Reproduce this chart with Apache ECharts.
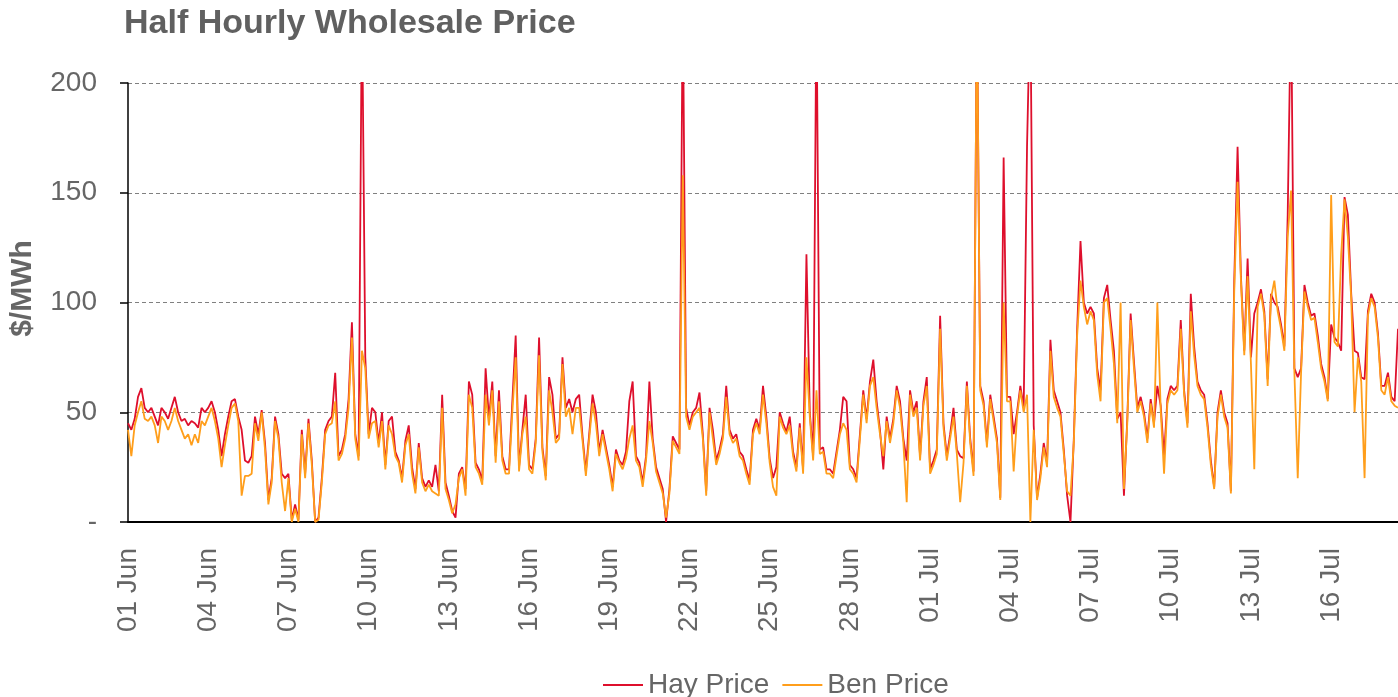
<!DOCTYPE html>
<html>

<head>
    <meta charset="utf-8" />
    <title>Half Hourly Wholesale Price</title>
    <script src="https://cdn.jsdelivr.net/npm/echarts@6/dist/echarts.min.js"></script>
</head>

<body style="margin: 0">
    <div id="main" style="width: 1398px; height: 697px"></div>
    <script type="text/javascript">
        // one reading every 3 hours from 01 Jun 00:00
        var stepHours = 3;
        var tickLabels = ["01 Jun", "04 Jun", "07 Jun", "10 Jun", "13 Jun", "16 Jun", "19 Jun", "22 Jun",
            "25 Jun", "28 Jun", "01 Jul", "04 Jul", "07 Jul", "10 Jul", "13 Jul", "16 Jul"];

        var hayPrice = [
            45, 42, 47, 57, 61, 52, 50, 52, // 01 Jun
            48, 44, 52, 50, 47, 52, 57, 50,
            46, 47, 44, 46, 45, 43, 52, 50,
            52, 55, 50, 42, 30, 40, 48, 55, // 04 Jun
            56, 48, 42, 28, 27, 30, 48, 40,
            51, 36, 10, 20, 48, 40, 22, 20,
            22, 1, 8, 1, 42, 22, 47, 28, // 07 Jun
            0, 2, 20, 42, 46, 48, 68, 30,
            33, 40, 56, 91, 40, 30, 240, 75,
            40, 52, 50, 36, 50, 26, 46, 48, // 10 Jun
            32, 28, 20, 37, 44, 25, 15, 36,
            20, 16, 19, 16, 26, 14, 58, 18,
            12, 5, 2, 22, 25, 15, 64, 58, // 13 Jun
            27, 24, 19, 70, 47, 64, 30, 60,
            30, 24, 24, 55, 85, 25, 42, 58,
            26, 24, 38, 84, 34, 21, 66, 58, // 16 Jun
            38, 40, 75, 52, 56, 50, 56, 58,
            39, 23, 40, 58, 50, 32, 42, 34,
            26, 16, 33, 28, 26, 32, 55, 64, // 19 Jun
            30, 27, 18, 30, 64, 38, 25, 20,
            15, 0, 15, 39, 36, 33, 240, 52,
            44, 50, 52, 59, 40, 14, 52, 42, // 22 Jun
            28, 33, 40, 62, 42, 38, 40, 32,
            30, 24, 19, 42, 47, 42, 62, 48,
            29, 20, 25, 50, 45, 41, 48, 32, // 25 Jun
            25, 45, 24, 122, 50, 30, 240, 33,
            34, 24, 24, 22, 32, 42, 57, 55,
            26, 24, 20, 40, 60, 47, 64, 74, // 28 Jun
            55, 42, 24, 48, 38, 47, 62, 55,
            38, 28, 60, 50, 55, 30, 55, 66,
            24, 28, 33, 94, 45, 30, 40, 52, // 01 Jul
            33, 30, 29, 64, 38, 23, 240, 62,
            55, 36, 58, 48, 38, 11, 166, 57,
            57, 40, 50, 62, 52, 171, 240, 44, // 04 Jul
            11, 22, 36, 27, 83, 60, 55, 50,
            33, 12, 0, 38, 88, 128, 100, 95,
            98, 95, 70, 60, 102, 108, 92, 78, // 07 Jul
            47, 50, 12, 47, 95, 73, 52, 57,
            50, 38, 56, 45, 62, 53, 30, 56,
            62, 60, 62, 92, 60, 45, 104, 80, // 10 Jul
            64, 60, 58, 45, 28, 16, 50, 60,
            50, 45, 14, 110, 171, 112, 78, 120,
            75, 95, 100, 106, 96, 65, 104, 100, // 13 Jul
            98, 90, 80, 140, 240, 70, 66, 70,
            108, 100, 94, 95, 85, 72, 66, 56,
            90, 84, 82, 78, 148, 140, 104, 78, // 16 Jul
            77, 66, 65, 96, 104, 100, 86, 62,
            62, 68, 57, 55, 88
        ];

        var benPrice = [
            42, 30, 44, 50, 55, 47, 46, 48, // 01 Jun
            44, 36, 48, 46, 42, 46, 52, 46,
            42, 38, 40, 35, 40, 36, 46, 44,
            48, 52, 46, 38, 25, 35, 44, 52, // 04 Jun
            54, 46, 12, 21, 21, 22, 45, 37,
            50, 33, 8, 18, 46, 38, 18, 5,
            20, 0, 6, 0, 40, 20, 45, 26, // 07 Jun
            0, 1, 18, 40, 44, 45, 55, 28,
            31, 38, 52, 84, 38, 28, 78, 70,
            38, 45, 46, 34, 46, 24, 44, 40, // 10 Jun
            30, 27, 18, 35, 40, 22, 13, 34,
            18, 14, 17, 14, 13, 12, 52, 15,
            10, 4, 8, 20, 24, 12, 58, 52, // 13 Jun
            25, 22, 17, 58, 44, 60, 27, 55,
            28, 22, 22, 50, 75, 23, 40, 48,
            24, 22, 36, 76, 32, 19, 60, 50, // 16 Jun
            36, 38, 72, 48, 52, 40, 52, 52,
            37, 21, 38, 54, 45, 30, 40, 32,
            24, 14, 31, 27, 24, 29, 38, 44, // 19 Jun
            28, 25, 16, 28, 46, 36, 23, 18,
            13, 2, 13, 37, 34, 31, 158, 48,
            42, 48, 50, 52, 38, 12, 50, 38, // 22 Jun
            26, 31, 38, 57, 40, 36, 38, 30,
            28, 22, 17, 40, 45, 40, 58, 45,
            27, 16, 12, 48, 43, 40, 44, 30, // 25 Jun
            23, 43, 22, 75, 48, 28, 60, 31,
            32, 22, 22, 20, 30, 40, 45, 42,
            24, 22, 18, 38, 58, 45, 62, 66, // 28 Jun
            52, 40, 30, 46, 36, 45, 60, 52,
            36, 9, 58, 48, 52, 28, 53, 62,
            22, 26, 31, 88, 43, 28, 38, 48, // 01 Jul
            31, 9, 27, 62, 36, 21, 240, 60,
            53, 34, 56, 46, 36, 10, 100, 55,
            55, 23, 48, 60, 50, 58, 0, 42, // 04 Jul
            10, 20, 34, 25, 78, 57, 52, 48,
            31, 14, 12, 36, 85, 110, 98, 90,
            96, 92, 67, 55, 100, 102, 88, 72, // 07 Jul
            45, 100, 15, 45, 92, 70, 50, 55,
            48, 36, 54, 43, 100, 51, 22, 54,
            60, 58, 60, 88, 58, 43, 96, 76, // 10 Jul
            62, 58, 56, 43, 26, 15, 48, 58,
            48, 43, 13, 105, 155, 110, 76, 112,
            72, 24, 98, 104, 94, 62, 102, 110, // 13 Jul
            96, 88, 78, 130, 151, 68, 20, 68,
            105, 98, 92, 93, 82, 70, 64, 55,
            149, 82, 80, 122, 147, 130, 102, 50, // 16 Jul
            75, 64, 20, 94, 102, 98, 84, 60,
            58, 66, 55, 53, 52
        ];

        function toPoints(values) {
            return values.map(function (v, i) {
                return [i * stepHours, v];
            });
        }

        var textGrey = "#666666";
        var myChart = echarts.init(document.getElementById("main"));

        var option = {
            animation: false,
            title: {
                text: "Half Hourly Wholesale Price",
                left: 119,
                top: 2,
                textStyle: {
                    fontFamily: "Liberation Sans",
                    fontSize: 34,
                    fontWeight: "bold",
                    color: "#606060",
                },
            },
            legend: {
                left: 598,
                top: 666,
                icon: "rect",
                itemWidth: 40,
                itemHeight: 2,
                itemGap: 13,
                textStyle: {
                    fontFamily: "Liberation Sans",
                    fontSize: 28,
                    color: textGrey,
                },
                data: ["Hay Price", "Ben Price"],
            },
            grid: {
                left: 125,
                right: 0,
                top: 83,
                bottom: 175,
            },
            xAxis: {
                type: "value",
                min: 0,
                max: (hayPrice.length - 1) * stepHours,
                interval: 72,
                axisLine: {
                    lineStyle: { color: "#000000", width: 2 },
                },
                axisTick: { show: false },
                splitLine: { show: false },
                axisLabel: {
                    rotate: 90,
                    margin: 26,
                    showMaxLabel: false,
                    fontFamily: "Liberation Sans",
                    fontSize: 28,
                    color: textGrey,
                    formatter: function (value) {
                        if (value % 72 !== 0) return "";
                        return tickLabels[value / 72] || "";
                    },
                },
            },
            yAxis: {
                type: "value",
                min: 0,
                max: 200,
                interval: 50,
                name: "$/MWh",
                nameLocation: "middle",
                nameGap: 90,
                nameTextStyle: {
                    fontFamily: "Liberation Sans",
                    fontSize: 30,
                    fontWeight: "bold",
                    color: textGrey,
                    padding: [0, 0, 0, 28],
                },
                axisLine: {
                    show: true,
                    lineStyle: { color: "#000000", width: 1.5 },
                },
                axisTick: {
                    show: true,
                    length: 8,
                    lineStyle: { color: "#000000", width: 1.5 },
                },
                splitLine: {
                    lineStyle: { color: "#808080", type: [4, 3], width: 1 },
                },
                axisLabel: {
                    margin: 31,
                    fontFamily: "Liberation Sans",
                    fontSize: 28,
                    color: textGrey,
                    formatter: function (value) {
                        return value === 0 ? "-" : value;
                    },
                },
            },
            series: [
                {
                    name: "Hay Price",
                    type: "line",
                    data: toPoints(hayPrice),
                    showSymbol: false,
                    color: "#DE0F2C",
                    lineStyle: { width: 1.8 },
                },
                {
                    name: "Ben Price",
                    type: "line",
                    data: toPoints(benPrice),
                    showSymbol: false,
                    color: "#FF9E1B",
                    lineStyle: { width: 1.8 },
                },
            ],
        };
        myChart.setOption(option);
    </script>
</body>

</html>
